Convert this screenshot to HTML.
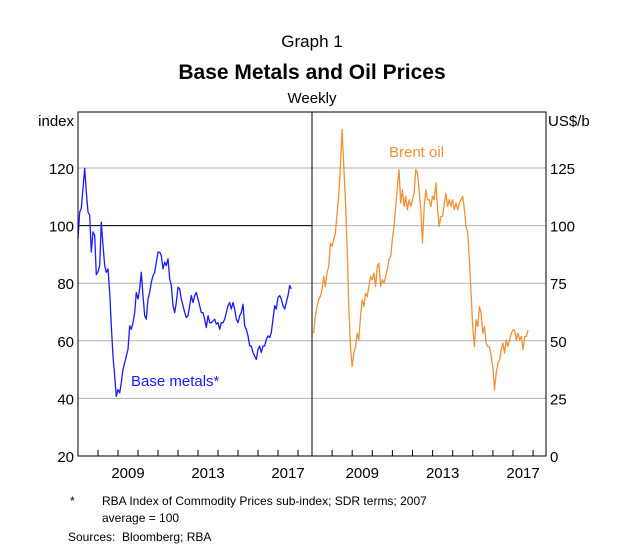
<!DOCTYPE html>
<html><head><meta charset="utf-8"><style>
body{margin:0;background:#fff;}
svg text{font-family:"Liberation Sans",sans-serif;fill:#000;}
</style></head><body>
<svg id="chart" width="625" height="551" xmlns="http://www.w3.org/2000/svg">
<text x="312" y="47" font-size="17" text-anchor="middle">Graph 1</text>
<text x="312" y="79" font-size="21" font-weight="bold" text-anchor="middle">Base Metals and Oil Prices</text>
<text x="312" y="103" font-size="15" text-anchor="middle">Weekly</text>
<text x="74" y="126" font-size="15" text-anchor="end">index</text>
<text x="548" y="126" font-size="15">US$/b</text>
<g id="grid"></g><g id="marks"></g><g id="axes"></g>
<text x="131" y="386" font-size="15" fill="#1a1aff" style="fill:#1a1aff">Base metals*</text>
<text x="389" y="157" font-size="15" style="fill:#f39035">Brent oil</text>
<text x="70" y="505" font-size="12">*</text>
<text x="102" y="505" font-size="12">RBA Index of Commodity Prices sub-index; SDR terms; 2007</text>
<text x="102" y="522" font-size="12">average = 100</text>
<text x="68" y="541" font-size="12">Sources:&#160;&#160;Bloomberg; RBA</text>
</svg>
<script>
const leftTicks=[20,40,60,80,100,120];
const rightTicks=[0,25,50,75,100,125];
const yearLabels=[2009,2013,2017];
const baseStart=2007.0;
const baseValues=[95.4,104.7,106,113,119.9,111.7,104.7,103.6,90.8,97.8,96.6,83,84,86.1,101.2,93.1,86.1,83.8,85,76.8,65.2,54.7,47.7,40.7,43.1,41.9,45.4,50.1,52.4,54.7,57,65.2,64,66.3,69.8,76.8,74.5,78,83.8,75.7,68.7,67.5,74.5,76.8,80.3,82.6,83.8,87.3,90.8,90.8,89.6,85,87.3,86.1,88.5,81.5,79.2,72.2,69.8,73.3,78.6,78,74.5,72.2,69.8,68.1,68.7,72.2,75.7,73.3,75.7,76.8,74.5,72.2,69.8,69.8,67.5,64.6,68.7,66.3,66.3,66.9,67.5,65.8,66.3,64,66.3,66.3,67.5,69.8,72.2,73.3,71,73.3,71,67.5,66.3,68.7,69.8,72.7,65.2,64,61.7,58.2,58.2,55.9,54.7,53.5,57,58.2,55.9,58.2,58.2,60.5,61.7,61.1,62.9,67.5,72.2,71,75.1,75.7,74.5,72.2,71,73.3,75.7,79.2,78];
const oilStart=2007.08;
const oilValues=[53.3,60.5,64.9,67.8,69.2,72.1,77.9,73.6,79.4,82.3,92.4,91,93.9,96.8,105.4,112.7,125.7,141.7,125.7,111.2,91,64.9,47.5,38.8,44.6,47.5,53.3,50.4,60.5,67.8,64.9,70.7,69.2,73.6,77.9,76.5,79.4,73.6,82.3,83.7,73.6,76.5,75,77.9,80.8,85.2,86.6,93.9,99.7,108.3,117,124.3,109.8,115.5,108.3,112.7,106.9,111.2,108.3,111.2,114.1,124.3,122.8,115.5,106.9,92.4,108.3,115.5,111.2,111.2,108.3,112.7,111.2,118.5,106.9,99.7,104,104,109.8,114.1,108.3,111.2,108.3,111.2,106.9,109.8,106.9,109.8,111.2,112.7,106.9,99.7,96.8,85.2,70.7,56.2,47.5,59.1,56.2,64.9,62,53.3,56.2,49,47.5,47.5,43.2,38.8,28.7,35.9,40.3,41.6,46.1,49,44.6,50.4,47.5,50.4,53.3,54.7,54.7,50.4,53.3,50.4,51.9,46.1,51.9,51.9,54.7];

const NS='http://www.w3.org/2000/svg';
const TOP=112,BOT=456,L0=78,MID=312,R1=546;
const yL=v=>BOT-(v-20)/100*(BOT-TOP-57.3)-0; // placeholder replaced below
function yLeft(v){return BOT-(v-20)*(288/100);}
function yRight(v){return BOT-v*(288/125);}
function xLeft(t){return L0+(t-2007)*20;}
function xRight(t){return MID+(t-2007)*20.1;}
function mk(tag,attrs,parent){const e=document.createElementNS(NS,tag);for(const k in attrs)e.setAttribute(k,attrs[k]);parent.appendChild(e);return e;}
const grid=document.getElementById('grid'),marks=document.getElementById('marks'),axes=document.getElementById('axes');
leftTicks.forEach(v=>{
  const y=yLeft(v);
  if(v>20&&v<140){const ln=mk('line',{x1:L0,x2:R1,y1:y,y2:y,stroke:'#b0b0b0','stroke-width':1},grid);
  
  }
  const t=mk('text',{x:74,y:y+6,'font-size':15,'text-anchor':'end'},axes);t.textContent=v;
  
  
});
rightTicks.forEach(v=>{
  const t=mk('text',{x:550,y:yRight(v)+6,'font-size':15},axes);t.textContent=v;
  
  
});
const ref=mk('line',{x1:L0,x2:MID,y1:yLeft(100),y2:yLeft(100),stroke:'#000','stroke-width':1},grid);


const frame=mk('rect',{x:L0,y:TOP,width:R1-L0,height:BOT-TOP,fill:'none',stroke:'#000','stroke-width':1},axes);


const div=mk('line',{x1:MID,x2:MID,y1:TOP,y2:BOT,stroke:'#000','stroke-width':1},axes);


for(let yr=2008;yr<=2018;yr++){
  [xLeft(yr),xRight(yr)].forEach(x=>{
    const tk=mk('line',{x1:x,x2:x,y1:BOT,y2:BOT-6,stroke:'#000','stroke-width':1},axes);
    
    
  });
}
yearLabels.forEach(yr=>{
  [xLeft(yr+0.5),xRight(yr+0.5)].forEach(x=>{
    const t=mk('text',{x:x,y:478,'font-size':15,'text-anchor':'middle'},axes);t.textContent=yr;
    
    
  });
});
const bp=baseValues.map((v,i)=>xLeft(baseStart+i/12).toFixed(1)+','+yLeft(v).toFixed(1)).join(' ');
const bl=mk('polyline',{points:bp,fill:'none',stroke:'#1a1aff','stroke-width':1.3,'stroke-linejoin':'round'},marks);


const op=oilValues.map((v,i)=>xRight(oilStart+i/12).toFixed(1)+','+yRight(v).toFixed(1)).join(' ');
const ol=mk('polyline',{points:op,fill:'none',stroke:'#f39035','stroke-width':1.3,'stroke-linejoin':'round'},marks);


</script>
</body></html>
